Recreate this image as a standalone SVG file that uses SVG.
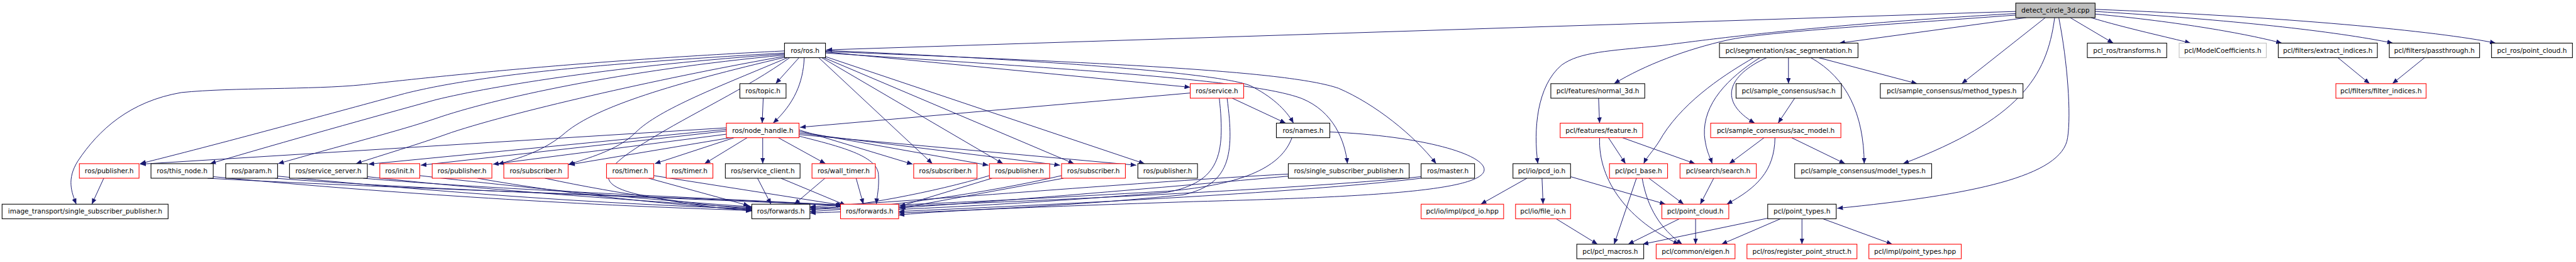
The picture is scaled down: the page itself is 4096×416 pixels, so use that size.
<svg xmlns="http://www.w3.org/2000/svg" width="4096" height="416" viewBox="0 0 4096 416">
<defs>
<style>
.e path{fill:none;stroke:#191970;stroke-width:1.2;marker-end:url(#a)}
.nd rect{fill:#fff;stroke:#000;stroke-width:1.3}
.nd.r rect{stroke:#ff0000}
.nd.g rect{stroke:#bfbfbf}
.nd.root rect{fill:#bfbfbf}
.nd text{font-family:"DejaVu Sans","Liberation Sans",sans-serif;font-size:12.8px;text-anchor:middle;fill:#000}
</style>
<marker id="a" markerWidth="12" markerHeight="9" refX="11" refY="4.5" orient="auto" markerUnits="userSpaceOnUse"><path d="M0,0 L11,4.5 L0,9 z" fill="#191970"/></marker>
</defs>
<rect x="0" y="0" width="4096" height="416" fill="#fff"/>
<g transform="scale(0.825)">
<g id="connectors" class="e">
<path d="M3885,22 L1593,96"/>
<path d="M3905,34 L3545,83"/>
<path d="M3942,34 L3781,161"/>
<path d="M3960,34 C3945,150 3890,230 3668,315"/>
<path d="M3968,34 C3985,120 3992,220 3985,265 C3975,340 3800,375 3541,401"/>
<path d="M3990,34 L4073,83"/>
<path d="M4030,34 C4100,55 4180,72 4222,83"/>
<path d="M4038,27 C4200,42 4330,65 4398,83"/>
<path d="M4038,22 C4300,38 4500,60 4612,83"/>
<path d="M4038,18 C4400,32 4700,60 4810,83"/>
<path d="M3885,29 C3600,50 3400,62 3330,77 C3250,95 3170,125 3111,161"/>
<path d="M3885,26 C3500,48 3300,75 3200,88 C3100,98 3045,100 3010,125 C2962,165 2955,250 2964,315"/>
<path d="M3447,111 L3447,161"/>
<path d="M3505,111 L3695,161"/>
<path d="M3490,111 C3560,150 3592,220 3593,315"/>
<path d="M3405,111 C3330,145 3310,195 3382,237"/>
<path d="M3392,111 C3330,150 3282,200 3285,260 C3288,290 3295,300 3300,315"/>
<path d="M3380,111 C3330,140 3250,190 3205,260 C3188,290 3175,300 3168,315"/>
<path d="M3459,189 L3427,237"/>
<path d="M3400,265 L3333,315"/>
<path d="M3453,265 L3556,315"/>
<path d="M3421,265 C3420,330 3385,362 3328,393"/>
<path d="M3081,189 L3083,237"/>
<path d="M3100,265 L3133,315"/>
<path d="M3127,265 L3267,315"/>
<path d="M3083,265 C3080,350 3140,425 3236,470"/>
<path d="M2943,343 L2854,393"/>
<path d="M2972,343 L2974,393"/>
<path d="M3027,340 L3210,393"/>
<path d="M2999,421 L3079,470"/>
<path d="M3154,343 L3111,470"/>
<path d="M3178,343 L3245,393"/>
<path d="M3165,343 C3175,400 3200,440 3242,470"/>
<path d="M3303,343 L3277,393"/>
<path d="M3237,421 L3138,470"/>
<path d="M3268,421 L3268,470"/>
<path d="M3407,420 L3166,470"/>
<path d="M3432,421 L3318,470"/>
<path d="M3473,421 L3473,470"/>
<path d="M3513,421 L3647,470"/>
<path d="M4506,111 L4567,161"/>
<path d="M4673,111 L4611,161"/>
<path d="M1512,98 C1100,118 800,152 700,163 C600,173 450,168 350,178 C250,195 190,250 150,310 C128,345 138,370 147,393"/>
<path d="M1512,102 C1100,125 900,150 780,180 C650,215 450,270 270,315"/>
<path d="M1512,104 C1200,125 950,165 840,192 C720,225 550,272 405,315"/>
<path d="M1512,106 C1200,135 950,190 840,228 C770,252 650,282 536,315"/>
<path d="M1514,108 C1300,145 1000,212 870,255 C800,280 740,297 686,315"/>
<path d="M1514,110 C1300,160 1150,205 1090,255 C1050,290 1000,305 960,316"/>
<path d="M1518,111 C1390,165 1270,210 1225,255 C1190,290 1130,305 1095,317"/>
<path d="M1522,111 C1440,170 1330,220 1250,270 C1150,330 1140,360 1260,380 C1330,395 1400,402 1449,406"/>
<path d="M1540,111 L1495,161"/>
<path d="M1550,111 C1548,160 1530,200 1490,237"/>
<path d="M1591,100 L2294,168"/>
<path d="M1591,97 C2000,115 2350,140 2410,165 C2450,185 2478,210 2493,237"/>
<path d="M1591,102 C2100,135 2420,155 2510,190 C2570,215 2592,270 2597,315"/>
<path d="M1591,99 C2100,120 2480,135 2580,170 C2650,200 2725,260 2768,315"/>
<path d="M1578,111 L1797,315"/>
<path d="M1584,111 L1933,315"/>
<path d="M1588,111 L2070,315"/>
<path d="M1591,109 L2206,315"/>
<path d="M1471,189 L1469,237"/>
<path d="M1400,246 L270,316"/>
<path d="M1400,249 L710,316"/>
<path d="M1400,252 L811,318"/>
<path d="M1402,258 L950,316"/>
<path d="M1408,265 L1097,317"/>
<path d="M1415,265 L1262,315"/>
<path d="M1440,265 L1358,315"/>
<path d="M1470,265 L1470,315"/>
<path d="M1500,265 L1591,315"/>
<path d="M1540,250 L1759,316"/>
<path d="M1540,253 L1905,318"/>
<path d="M1540,256 L2043,318"/>
<path d="M1540,259 L2190,318"/>
<path d="M1540,262 C1620,282 1690,300 1693,335 C1695,360 1690,380 1689,393"/>
<path d="M2294,179 L1542,245"/>
<path d="M2375,189 L2478,237"/>
<path d="M2350,189 C2362,300 2350,350 2250,370 C1950,395 1700,405 1561,410"/>
<path d="M2365,189 C2380,300 2370,355 2280,375 C2050,398 1850,405 1732,410"/>
<path d="M2490,265 C2470,320 2400,355 2250,368 C1950,385 1750,395 1561,400"/>
<path d="M2563,254 C2750,262 2870,300 2860,330 C2845,370 2600,380 2300,388 C2000,398 1800,406 1732,414"/>
<path d="M2483,335 C2200,350 1800,385 1561,398"/>
<path d="M2483,339 C2250,360 1900,390 1732,400"/>
<path d="M2739,340 C2500,365 1900,392 1561,403"/>
<path d="M2739,343 C2500,372 2000,395 1732,407"/>
<path d="M1907,338 C1800,370 1650,398 1561,403"/>
<path d="M1912,343 L1734,397"/>
<path d="M2046,338 C1900,372 1700,400 1561,407"/>
<path d="M2050,343 L1734,401"/>
<path d="M1250,343 L1444,396"/>
<path d="M1260,338 L1624,395"/>
<path d="M1460,343 L1486,393"/>
<path d="M1505,343 L1630,395"/>
<path d="M1590,343 L1531,393"/>
<path d="M1650,343 L1664,393"/>
<path d="M411,340 C700,368 1100,395 1449,405"/>
<path d="M400,343 C800,365 1300,378 1622,395"/>
<path d="M535,339 C800,365 1100,390 1449,402"/>
<path d="M530,343 C850,368 1300,380 1624,396"/>
<path d="M708,340 C900,362 1200,385 1449,400"/>
<path d="M700,343 C950,365 1350,380 1626,395"/>
<path d="M809,338 C1000,360 1250,385 1449,398"/>
<path d="M920,343 C1100,375 1300,395 1449,404"/>
<path d="M1050,343 C1200,375 1350,395 1449,402"/>
<path d="M200,343 L177,393"/>
</g>
<g id="n_root" class="nd root"><rect x="3885" y="6" width="153" height="28"/><text x="3961.5" y="24.5">detect_circle_3d.cpp</text></g>
<g id="n_ros" class="nd"><rect x="1512" y="83" width="79" height="28"/><text x="1551.5" y="101.5">ros/ros.h</text></g>
<g id="n_sacseg" class="nd"><rect x="3314" y="83" width="267" height="28"/><text x="3447.5" y="101.5">pcl/segmentation/sac_segmentation.h</text></g>
<g id="n_tf" class="nd"><rect x="4023" y="83" width="153" height="28"/><text x="4099.5" y="101.5">pcl_ros/transforms.h</text></g>
<g id="n_mc" class="nd g"><rect x="4200" y="83" width="168" height="28"/><text x="4284" y="101.5">pcl/ModelCoefficients.h</text></g>
<g id="n_ei" class="nd"><rect x="4391" y="83" width="191" height="28"/><text x="4486.5" y="101.5">pcl/filters/extract_indices.h</text></g>
<g id="n_pt" class="nd"><rect x="4605" y="83" width="174" height="28"/><text x="4692" y="101.5">pcl/filters/passthrough.h</text></g>
<g id="n_prpc" class="nd"><rect x="4802" y="83" width="156" height="28"/><text x="4880" y="101.5">pcl_ros/point_cloud.h</text></g>
<g id="n_topic" class="nd"><rect x="1426" y="161" width="89" height="28"/><text x="1470.5" y="179.5">ros/topic.h</text></g>
<g id="n_service" class="nd r"><rect x="2294" y="161" width="103" height="28"/><text x="2345.5" y="179.5">ros/service.h</text></g>
<g id="n_n3d" class="nd"><rect x="2989" y="161" width="181" height="28"/><text x="3079.5" y="179.5">pcl/features/normal_3d.h</text></g>
<g id="n_sac" class="nd"><rect x="3346" y="161" width="203" height="28"/><text x="3447.5" y="179.5">pcl/sample_consensus/sac.h</text></g>
<g id="n_mt" class="nd"><rect x="3624" y="161" width="275" height="28"/><text x="3761.5" y="179.5">pcl/sample_consensus/method_types.h</text></g>
<g id="n_fi" class="nd r"><rect x="4502" y="161" width="174" height="28"/><text x="4589" y="179.5">pcl/filters/filter_indices.h</text></g>
<g id="n_nh" class="nd r"><rect x="1400" y="237" width="140" height="28"/><text x="1470" y="255.5">ros/node_handle.h</text></g>
<g id="n_names" class="nd"><rect x="2460" y="237" width="103" height="28"/><text x="2511.5" y="255.5">ros/names.h</text></g>
<g id="n_feat" class="nd r"><rect x="3007" y="237" width="159" height="28"/><text x="3086.5" y="255.5">pcl/features/feature.h</text></g>
<g id="n_sacm" class="nd r"><rect x="3297" y="237" width="251" height="28"/><text x="3422.5" y="255.5">pcl/sample_consensus/sac_model.h</text></g>
<g id="n_pub1" class="nd r"><rect x="153" y="315" width="115" height="28"/><text x="210.5" y="333.5">ros/publisher.h</text></g>
<g id="n_thisnode" class="nd"><rect x="291" y="315" width="120" height="28"/><text x="351" y="333.5">ros/this_node.h</text></g>
<g id="n_param" class="nd"><rect x="435" y="315" width="100" height="28"/><text x="485" y="333.5">ros/param.h</text></g>
<g id="n_ss" class="nd"><rect x="558" y="315" width="150" height="28"/><text x="633" y="333.5">ros/service_server.h</text></g>
<g id="n_init" class="nd r"><rect x="732" y="315" width="77" height="28"/><text x="770.5" y="333.5">ros/init.h</text></g>
<g id="n_pub2" class="nd r"><rect x="833" y="315" width="115" height="28"/><text x="890.5" y="333.5">ros/publisher.h</text></g>
<g id="n_sub1" class="nd r"><rect x="971" y="315" width="124" height="28"/><text x="1033" y="333.5">ros/subscriber.h</text></g>
<g id="n_timer1" class="nd r"><rect x="1169" y="315" width="91" height="28"/><text x="1214.5" y="333.5">ros/timer.h</text></g>
<g id="n_timer2" class="nd r"><rect x="1284" y="315" width="90" height="28"/><text x="1329" y="333.5">ros/timer.h</text></g>
<g id="n_sc" class="nd"><rect x="1398" y="315" width="144" height="28"/><text x="1470" y="333.5">ros/service_client.h</text></g>
<g id="n_wt" class="nd r"><rect x="1565" y="315" width="122" height="28"/><text x="1626" y="333.5">ros/wall_timer.h</text></g>
<g id="n_sub2" class="nd r"><rect x="1761" y="315" width="122" height="28"/><text x="1822" y="333.5">ros/subscriber.h</text></g>
<g id="n_pub3" class="nd r"><rect x="1907" y="315" width="116" height="28"/><text x="1965" y="333.5">ros/publisher.h</text></g>
<g id="n_sub3" class="nd r"><rect x="2046" y="315" width="123" height="28"/><text x="2107.5" y="333.5">ros/subscriber.h</text></g>
<g id="n_pub4" class="nd"><rect x="2193" y="315" width="115" height="28"/><text x="2250.5" y="333.5">ros/publisher.h</text></g>
<g id="n_ssp" class="nd"><rect x="2483" y="315" width="233" height="28"/><text x="2599.5" y="333.5">ros/single_subscriber_publisher.h</text></g>
<g id="n_master" class="nd"><rect x="2739" y="315" width="103" height="28"/><text x="2790.5" y="333.5">ros/master.h</text></g>
<g id="n_pcdio" class="nd"><rect x="2916" y="315" width="111" height="28"/><text x="2971.5" y="333.5">pcl/io/pcd_io.h</text></g>
<g id="n_pclbase" class="nd r"><rect x="3102" y="315" width="112" height="28"/><text x="3158" y="333.5">pcl/pcl_base.h</text></g>
<g id="n_search" class="nd r"><rect x="3238" y="315" width="147" height="28"/><text x="3311.5" y="333.5">pcl/search/search.h</text></g>
<g id="n_modt" class="nd"><rect x="3459" y="315" width="264" height="28"/><text x="3591" y="333.5">pcl/sample_consensus/model_types.h</text></g>
<g id="n_itssp" class="nd"><rect x="4" y="393" width="320" height="28"/><text x="164" y="411.5">image_transport/single_subscriber_publisher.h</text></g>
<g id="n_fwd1" class="nd"><rect x="1449" y="393" width="112" height="28"/><text x="1505" y="411.5">ros/forwards.h</text></g>
<g id="n_fwd2" class="nd r"><rect x="1620" y="393" width="112" height="28"/><text x="1676" y="411.5">ros/forwards.h</text></g>
<g id="n_pcdhpp" class="nd r"><rect x="2739" y="393" width="159" height="28"/><text x="2818.5" y="411.5">pcl/io/impl/pcd_io.hpp</text></g>
<g id="n_fileio" class="nd r"><rect x="2921" y="393" width="106" height="28"/><text x="2974" y="411.5">pcl/io/file_io.h</text></g>
<g id="n_pc" class="nd r"><rect x="3203" y="393" width="129" height="28"/><text x="3267.5" y="411.5">pcl/point_cloud.h</text></g>
<g id="n_ptypes" class="nd"><rect x="3407" y="393" width="132" height="28"/><text x="3473" y="411.5">pcl/point_types.h</text></g>
<g id="n_macros" class="nd"><rect x="3039" y="470" width="129" height="28"/><text x="3103.5" y="488.5">pcl/pcl_macros.h</text></g>
<g id="n_eigen" class="nd r"><rect x="3192" y="470" width="152" height="28"/><text x="3268" y="488.5">pcl/common/eigen.h</text></g>
<g id="n_rps" class="nd r"><rect x="3367" y="470" width="212" height="28"/><text x="3473" y="488.5">pcl/ros/register_point_struct.h</text></g>
<g id="n_pthpp" class="nd r"><rect x="3602" y="470" width="178" height="28"/><text x="3691" y="488.5">pcl/impl/point_types.hpp</text></g>
</g>
</svg>
